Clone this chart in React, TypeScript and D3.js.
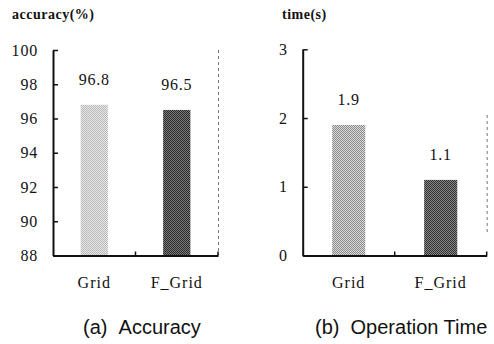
import { useRef, useEffect } from 'react';
import * as d3 from 'd3';

// ── Data ────────────────────────────────────────────────────────────────────
const categories = ['Grid', 'F_Grid'];
const accuracyValues = [96.8, 96.5];
const timeValues = [1.9, 1.1];
const accuracyTicks = [88, 90, 92, 94, 96, 98, 100];
const timeTicks = [0, 1, 2, 3];

const WIDTH = 494;
const HEIGHT = 344;
const SERIF = '"Times New Roman", "Liberation Serif", Times, serif';
const SANS = '"Liberation Sans", Arial, sans-serif';

interface Panel {
  id: string;
  values: number[];
  ticks: number[];
  domain: [number, number];
  x0: number;
  x1: number;
  yTop: number;
  yBottom: number;
  padInner: number;
  padOuter: number;
  title: string;
  titleX: number;
  caption: string;
  captionX: number;
  dashY: [number, number];
  // halftone pairs per bar [dark, light]
  shades: [string, string][];
}

const panels: Panel[] = [
  {
    id: 'acc',
    values: accuracyValues,
    ticks: accuracyTicks,
    domain: [88, 100],
    x0: 53,
    x1: 218,
    yTop: 50,
    yBottom: 255.5,
    padInner: 0.67,
    padOuter: 0.335,
    title: 'accuracy(%)',
    titleX: 12,
    caption: '(a)\u00a0\u00a0Accuracy',
    captionX: 83,
    dashY: [50, 255],
    shades: [
      ['#b8b8b8', '#e8e8e8'],
      ['#2a2a2a', '#7a7a7a'],
    ],
  },
  {
    id: 'time',
    values: timeValues,
    ticks: timeTicks,
    domain: [0, 3],
    x0: 302.7,
    x1: 486.7,
    yTop: 49.3,
    yBottom: 255.5,
    padInner: 0.64,
    padOuter: 0.32,
    title: 'time(s)',
    titleX: 282,
    caption: '(b)\u00a0\u00a0Operation Time',
    captionX: 315,
    dashY: [115, 235],
    shades: [
      ['#8a8a8a', '#dadada'],
      ['#2e2e2e', '#8a8a8a'],
    ],
  },
];

export default function App() {
  const svgRef = useRef<SVGSVGElement>(null);

  useEffect(() => {
    if (!svgRef.current) return;
    const svg = d3.select(svgRef.current);
    svg.selectAll('*').remove();

    const defs = svg.append('defs');

    panels.forEach((p) => {
      const x = d3
        .scaleBand<string>()
        .domain(categories)
        .range([p.x0, p.x1])
        .paddingInner(p.padInner)
        .paddingOuter(p.padOuter);
      const y = d3.scaleLinear().domain(p.domain).range([p.yBottom, p.yTop]);

      // halftone patterns
      p.shades.forEach(([dark, light], i) => {
        const pat = defs
          .append('pattern')
          .attr('id', `pat-${p.id}-${i}`)
          .attr('width', 2)
          .attr('height', 2)
          .attr('patternUnits', 'userSpaceOnUse');
        pat.append('rect').attr('width', 2).attr('height', 2).attr('fill', light);
        pat.append('rect').attr('width', 1).attr('height', 1).attr('fill', dark);
        pat.append('rect').attr('x', 1).attr('y', 1).attr('width', 1).attr('height', 1).attr('fill', dark);
      });

      const g = svg.append('g');

      // ── Title ──────────────────────────────────────────────────────────────
      g.append('text')
        .attr('x', p.titleX)
        .attr('y', 19)
        .attr('font-family', SERIF)
        .attr('font-size', 14)
        .attr('font-weight', 'bold')
        .attr('letter-spacing', 0.5)
        .attr('fill', '#111')
        .text(p.title);

      // ── Right dashed border ────────────────────────────────────────────────
      g.append('line')
        .attr('x1', p.x1 + 0.5)
        .attr('x2', p.x1 + 0.5)
        .attr('y1', p.dashY[0])
        .attr('y2', p.dashY[1])
        .attr('stroke', '#777')
        .attr('stroke-width', 1)
        .attr('stroke-dasharray', '3,3');

      // ── Bars ───────────────────────────────────────────────────────────────
      g.selectAll('rect.bar')
        .data(p.values)
        .join('rect')
        .attr('class', 'bar')
        .attr('x', (_, i) => x(categories[i])!)
        .attr('width', x.bandwidth())
        .attr('y', (d) => y(d))
        .attr('height', (d) => y(p.domain[0]) - y(d))
        .attr('fill', (_, i) => `url(#pat-${p.id}-${i})`);

      // value labels
      g.selectAll('text.val')
        .data(p.values)
        .join('text')
        .attr('class', 'val')
        .attr('x', (_, i) => x(categories[i])! + x.bandwidth() / 2)
        .attr('y', (d) => y(d) - 20)
        .attr('text-anchor', 'middle')
        .attr('font-family', SERIF)
        .attr('font-size', 16)
        .attr('letter-spacing', 0.8)
        .attr('fill', '#111')
        .text((d) => d.toFixed(1));

      // ── Y axis ─────────────────────────────────────────────────────────────
      const yAxis = g
        .append('g')
        .attr('transform', `translate(${p.x0},0)`)
        .call(
          d3
            .axisLeft(y)
            .tickValues(p.ticks)
            .tickSizeInner(-5)
            .tickSizeOuter(0)
            .tickPadding(15)
            .tickFormat((d) => `${d}`),
        );
      yAxis.select('.domain').attr('stroke', '#111').attr('stroke-width', 2);
      yAxis.selectAll('line').attr('stroke', '#111').attr('stroke-width', 1.5);
      yAxis
        .selectAll('text')
        .attr('font-family', SERIF)
        .attr('font-size', 16)
        .attr('letter-spacing', 0.8)
        .attr('fill', '#111');

      // ── X axis ─────────────────────────────────────────────────────────────
      const xAxis = g
        .append('g')
        .attr('transform', `translate(0,${p.yBottom})`)
        .call(d3.axisBottom(x).tickSize(0).tickPadding(21));
      xAxis.select('.domain').attr('stroke', '#111').attr('stroke-width', 2);
      xAxis
        .selectAll('text')
        .attr('font-family', SERIF)
        .attr('font-size', 16)
        .attr('letter-spacing', 1)
        .attr('fill', '#111');

      // small upward ticks: middle and right end
      const midX = (p.x0 + p.x1) / 2;
      g.selectAll('line.xt')
        .data([midX, p.x1])
        .join('line')
        .attr('class', 'xt')
        .attr('x1', (d) => d)
        .attr('x2', (d) => d)
        .attr('y1', p.yBottom)
        .attr('y2', p.yBottom - 4)
        .attr('stroke', '#111')
        .attr('stroke-width', 1.5);

      // ── Caption ────────────────────────────────────────────────────────────
      g.append('text')
        .attr('x', p.captionX)
        .attr('y', 334)
        .attr('font-family', SANS)
        .attr('font-size', 20)
        .attr('fill', '#111')
        .text(p.caption);
    });
  }, []);

  return (
    <svg
      ref={svgRef}
      width={WIDTH}
      height={HEIGHT}
      viewBox={`0 0 ${WIDTH} ${HEIGHT}`}
      style={{ position: 'absolute', left: 0, top: 0, background: '#fff' }}
    />
  );
}
